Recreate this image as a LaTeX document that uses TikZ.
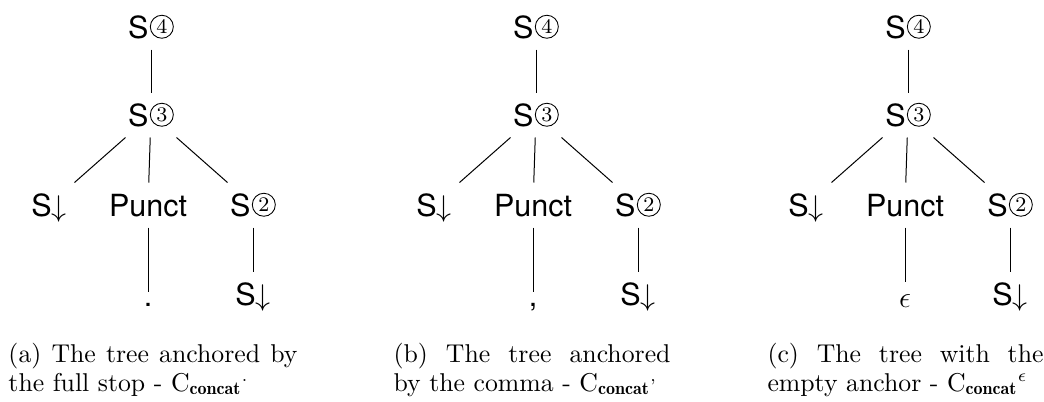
\documentclass[tikz,border=0pt]{standalone}
\usepackage{fontspec}
\setsansfont{TeX Gyre Heros}
\newcommand\cnum[1]{\tikz[baseline=0pt,x=1pt,y=1pt]{\path (0,0); \draw[line width=0.35pt] (5.3,4.5) circle[radius=4.6]; \path (5.3,1.75) node[anchor=base,inner sep=0pt,font=\rmfamily\fontsize{8.3}{8.3}\selectfont]{#1};}}
\tikzset{
  tn/.style={font=\sffamily\fontsize{12.2}{14}\selectfont, text height=8.8pt, text depth=0pt, inner ysep=4.4pt, inner xsep=4.4pt},
  leaf/.style={anchor=base, inner sep=0pt, text depth=0pt},
  capline/.style={anchor=base west, inner sep=0pt, font=\fontsize{10.3}{11.6}\selectfont},
  edge/.style={line width=0.4pt}
}
\newcommand\mktree[5]{%
\begin{scope}[shift={(#2,0)}]
  \node[tn] (#1r4) at (151,27) {S\cnum{4}};
  \node[tn] (#1r3) at (151,115) {S\cnum{3}};
  \node[tn] (#1sl) at (49,205) {S$\downarrow$};
  \node[tn] (#1p) at (148,205) {Punct};
  \node[tn] (#1s2) at (253,205) {S\cnum{2}};
  \node[tn] (#1sd) at (253,294) {S$\downarrow$};
  \node[tn,leaf,text height=#4] (#1lf) at (148,#5) {#3};
  \draw[edge] (#1r4) -- (#1r3);
  \draw[edge] (#1r3) -- (#1sl);
  \draw[edge] (#1r3) -- (#1p);
  \draw[edge] (#1r3) -- (#1s2);
  \draw[edge] (#1p) -- (#1lf);
  \draw[edge] (#1s2) -- (#1sd);
\end{scope}}
\begin{document}
\begin{tikzpicture}[x=0.4pt,y=-0.4pt]
\useasboundingbox (0,0) rectangle (1044,401);
\mktree{a}{0}{.}{5.6pt}{306}
\mktree{b}{385}{,}{5.6pt}{306}
\mktree{c}{757}{\fontsize{13}{14}\selectfont$\epsilon$}{10pt}{307}
\node[capline] (capa1) at (8,362) {\makebox[115.6pt][s]{(a) The tree anchored by}};
\node[capline] (capa2) at (8,391) {the full stop - $\mathrm{C}_{\mathbf{concat}}{}^{.}$};
\node[capline] (capb1) at (393,362) {\makebox[110.8pt][s]{(b) The tree anchored}};
\node[capline] (capb2) at (393,391) {by the comma - $\mathrm{C}_{\mathbf{concat}}{}^{,}$};
\node[capline] (capc1) at (767,362) {\makebox[110.4pt][s]{(c) The tree with the}};
\node[capline] (capc2) at (767,391) {empty anchor - $\mathrm{C}_{\mathbf{concat}}{}^{\epsilon}$};
\end{tikzpicture}
\end{document}
